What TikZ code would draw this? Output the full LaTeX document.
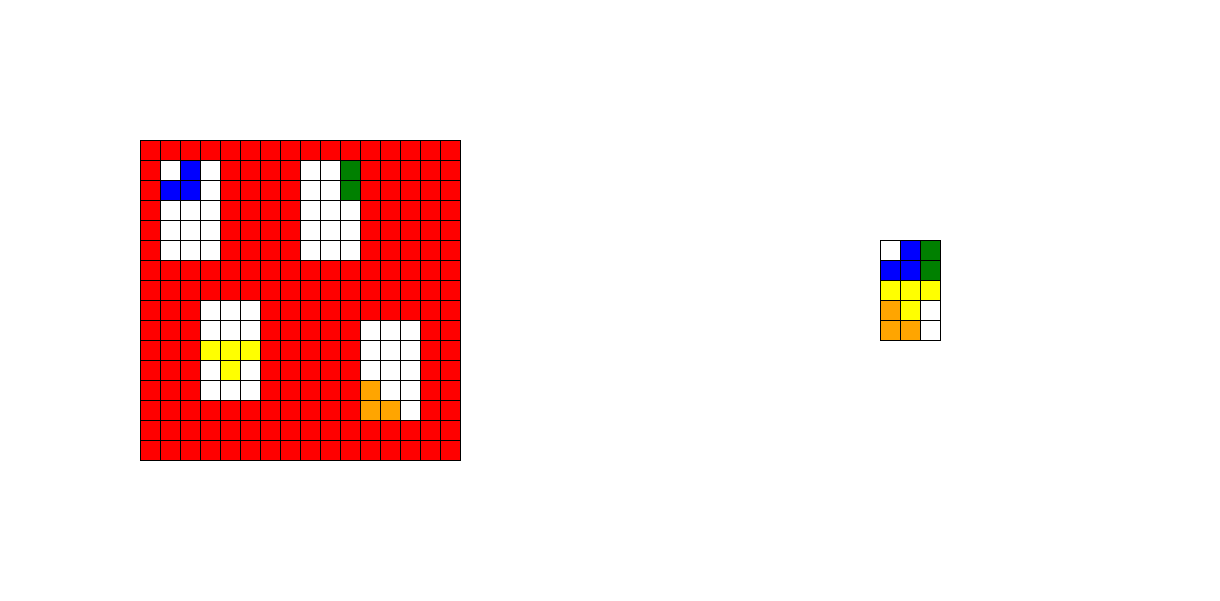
\documentclass[tikz,border=0pt]{standalone}
\definecolor{cR}{HTML}{FF0000}
\definecolor{cW}{HTML}{FFFFFF}
\definecolor{cB}{HTML}{0000FF}
\definecolor{cG}{HTML}{008000}
\definecolor{cY}{HTML}{FFFF00}
\definecolor{cO}{HTML}{FFA500}
\tikzset{cell/.style={draw=black,line width=0.8pt}}
\begin{document}
\begin{tikzpicture}[x=1pt,y=-1pt]
\useasboundingbox (0,0) rectangle (1220,600);
% left grid
\foreach \row [count=\r from 0] in {
{R,R,R,R,R,R,R,R,R,R,R,R,R,R,R,R},
{R,W,B,W,R,R,R,R,W,W,G,R,R,R,R,R},
{R,B,B,W,R,R,R,R,W,W,G,R,R,R,R,R},
{R,W,W,W,R,R,R,R,W,W,W,R,R,R,R,R},
{R,W,W,W,R,R,R,R,W,W,W,R,R,R,R,R},
{R,W,W,W,R,R,R,R,W,W,W,R,R,R,R,R},
{R,R,R,R,R,R,R,R,R,R,R,R,R,R,R,R},
{R,R,R,R,R,R,R,R,R,R,R,R,R,R,R,R},
{R,R,R,W,W,W,R,R,R,R,R,R,R,R,R,R},
{R,R,R,W,W,W,R,R,R,R,R,W,W,W,R,R},
{R,R,R,Y,Y,Y,R,R,R,R,R,W,W,W,R,R},
{R,R,R,W,Y,W,R,R,R,R,R,W,W,W,R,R},
{R,R,R,W,W,W,R,R,R,R,R,O,W,W,R,R},
{R,R,R,R,R,R,R,R,R,R,R,O,O,W,R,R},
{R,R,R,R,R,R,R,R,R,R,R,R,R,R,R,R},
{R,R,R,R,R,R,R,R,R,R,R,R,R,R,R,R}}{
  \foreach \c [count=\k from 0] in \row {
    \path[cell,fill=c\c] ({140+20*\k},{140+20*\r}) rectangle ++(20,20);
  }
}
% right grid
\foreach \row [count=\r from 0] in {
{W,B,G},
{B,B,G},
{Y,Y,Y},
{O,Y,W},
{O,O,W}}{
  \foreach \c [count=\k from 0] in \row {
    \path[cell,fill=c\c] ({880+20*\k},{240+20*\r}) rectangle ++(20,20);
  }
}
\end{tikzpicture}
\end{document}
